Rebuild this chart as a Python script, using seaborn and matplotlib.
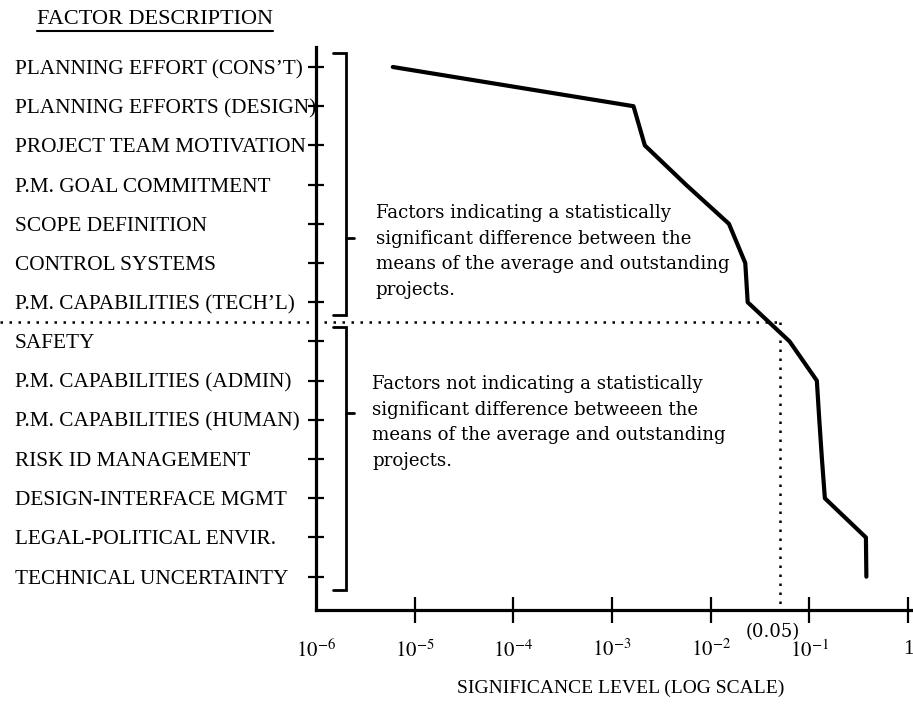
import numpy as np
import pandas as pd
import matplotlib
matplotlib.use("Agg")
import matplotlib.pyplot as plt
import matplotlib.transforms as mtransforms
from matplotlib.lines import Line2D
from matplotlib.ticker import NullLocator
import seaborn as sns

# ---- data -------------------------------------------------------------
factors = [
    "PLANNING EFFORT (CONS\u2019T)",
    "PLANNING EFFORTS (DESIGN)",
    "PROJECT TEAM MOTIVATION",
    "P.M. GOAL COMMITMENT",
    "SCOPE DEFINITION",
    "CONTROL SYSTEMS",
    "P.M. CAPABILITIES (TECH\u2019L)",
    "SAFETY",
    "P.M. CAPABILITIES (ADMIN)",
    "P.M. CAPABILITIES (HUMAN)",
    "RISK ID MANAGEMENT",
    "DESIGN-INTERFACE MGMT",
    "LEGAL-POLITICAL ENVIR.",
    "TECHNICAL UNCERTAINTY",
]
significance = [6.0e-6, 1.65e-3, 2.15e-3, 5.6e-3, 0.0153, 0.0224, 0.0237,
                0.063, 0.119, 0.126, 0.134, 0.1435, 0.374, 0.378]
threshold = 0.05
threshold_label = "(0.05)"
n_significant = 7

decade_ticks = [1e-6, 1e-5, 1e-4, 1e-3, 1e-2, 1e-1, 1.0]
decade_labels = [r"$10^{-6}$", r"$10^{-5}$", r"$10^{-4}$", r"$10^{-3}$",
                 r"$10^{-2}$", r"$10^{-1}$", "1"]

note_significant = ("Factors indicating a statistically\n"
                    "significant difference between the\n"
                    "means of the average and outstanding\n"
                    "projects.")
note_not_significant = ("Factors not indicating a statistically\n"
                        "significant difference betweeen the\n"
                        "means of the average and outstanding\n"
                        "projects.")
heading = "FACTOR DESCRIPTION"
x_title = "SIGNIFICANCE LEVEL (LOG SCALE)"

# ---- style ------------------------------------------------------------
sns.set_style("white")
plt.rcParams["font.family"] = ["Liberation Serif", "DejaVu Serif"]
plt.rcParams["mathtext.fontset"] = "stix"
INK = "black"
NOTE_FONT = ["DejaVu Serif"]

W_PX, H_PX = 913, 704
fig = plt.figure(figsize=(W_PX / 100, H_PX / 100), dpi=100)
fig.patch.set_facecolor("white")

ax_left, ax_right, ax_top, ax_bottom = 316, 913, 47, 610
ax = fig.add_axes([ax_left / W_PX, 1 - ax_bottom / H_PX,
                   (ax_right - ax_left) / W_PX, (ax_bottom - ax_top) / H_PX])
ax.set_facecolor("white")
ax.set_xscale("log")

df = pd.DataFrame({"factor": factors,
                   "pos": np.arange(len(factors)),
                   "p": significance})
sns.lineplot(data=df, x="p", y="pos", sort=False, estimator=None,
             color=INK, linewidth=3.0, ax=ax, legend=False)

x_lo, x_hi = 1e-6, 10 ** 0.05
y_top, y_bot = -0.51, 13.85
ax.set_xlim(x_lo, x_hi)
ax.set_ylim(y_bot, y_top)

for side in ("top", "right"):
    ax.spines[side].set_visible(False)
for side in ("left", "bottom"):
    ax.spines[side].set_linewidth(2.3)
    ax.spines[side].set_color(INK)

# x axis: decades
ax.set_xticks(decade_ticks)
ax.set_xticklabels(decade_labels)
ax.xaxis.set_minor_locator(NullLocator())
ax.tick_params(axis="x", which="major", bottom=True, direction="inout",
               length=19, width=1.6, colors=INK, labelsize=15, pad=12)
ax.xaxis.get_major_ticks()[0].tick1line.set_visible(False)
ax.set_xlabel(x_title, fontsize=14, color=INK)
ax.xaxis.set_label_coords(0.51, -0.124)

# y axis: factor names, left aligned at the figure margin
label_x_px = 15
tick_len = 11
base_pad = (ax_left - label_x_px) * 72 / 100 - tick_len / 2
ax.set_yticks(df["pos"])
ax.set_yticklabels(factors)
ax.yaxis.set_minor_locator(NullLocator())
ax.tick_params(axis="y", which="major", left=True, direction="inout",
               length=tick_len, width=1.6, colors=INK, labelsize=15.3,
               pad=base_pad)
plt.setp(ax.get_yticklabels(), ha="left")
ax.set_ylabel("")

# brackets grouping the two sets of factors
trans_ax_data = mtransforms.blended_transform_factory(ax.transAxes, ax.transData)
groups = [(0, n_significant - 1, 4.36), (n_significant, len(factors) - 1, 8.83)]
for first, last, pointer in groups:
    top, bottom = first - 0.36, last + 0.33
    ax.plot([0.028, 0.05, 0.05, 0.028], [top, top, bottom, bottom],
            transform=trans_ax_data, color=INK, lw=2.0, clip_on=False,
            solid_joinstyle="miter")
    ax.plot([0.05, 0.064], [pointer, pointer], transform=trans_ax_data,
            color=INK, lw=2.0, clip_on=False)

ax.text(0.10, 3.50, note_significant, transform=trans_ax_data,
        ha="left", va="top", fontsize=13.1, family=NOTE_FONT,
        linespacing=1.54, color=INK)
ax.text(0.094, 7.86, note_not_significant, transform=trans_ax_data,
        ha="left", va="top", fontsize=13.1, family=NOTE_FONT,
        linespacing=1.54, color=INK)

# threshold guides
split_y = n_significant - 0.5
log_span = np.log10(x_hi) - np.log10(x_lo)
thr_frac = (np.log10(threshold) - np.log10(x_lo)) / log_span
dots = (0, (1, 2.6))
ax.plot([-ax_left / (ax_right - ax_left), thr_frac], [split_y, split_y],
        transform=trans_ax_data, color=INK, lw=1.8, linestyle=dots,
        clip_on=False)
ax.plot([threshold, threshold], [split_y, y_bot], color=INK, lw=1.8,
        linestyle=dots)
trans_data_ax = mtransforms.blended_transform_factory(ax.transData, ax.transAxes)
ax.annotate(threshold_label, xy=(threshold, -0.039), xycoords=trans_data_ax,
            xytext=(-5, 0), textcoords="offset points",
            ha="center", va="center", fontsize=13, family=NOTE_FONT,
            color=INK, annotation_clip=False)

# heading with underline
head = fig.text(37 / W_PX, 1 - 20 / H_PX, heading, ha="left", va="center",
                fontsize=16, color=INK)
renderer = fig.canvas.get_renderer()
bb = head.get_window_extent(renderer)
uy = (bb.y0 - 1) / H_PX
fig.add_artist(Line2D([bb.x0 / W_PX, bb.x1 / W_PX], [uy, uy],
                      color=INK, lw=1.5))

fig.savefig("out.png", dpi=100, facecolor="white")
